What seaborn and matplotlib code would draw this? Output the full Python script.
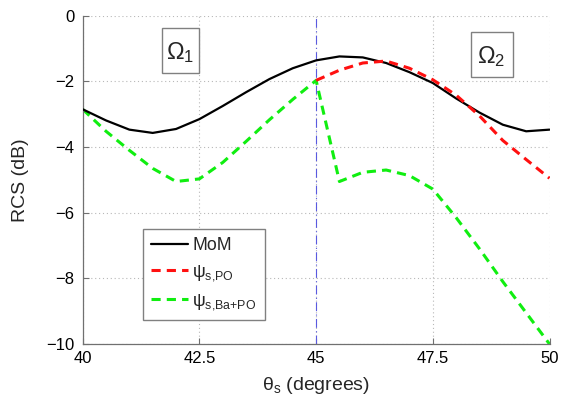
import matplotlib
matplotlib.use("Agg")
import matplotlib.pyplot as plt
from matplotlib.patches import Rectangle
import numpy as np
import pandas as pd
import seaborn as sns

# Scattering angle (degrees)
theta = [40.0, 40.5, 41.0, 41.5, 42.0, 42.5, 43.0, 43.5, 44.0, 44.5, 45.0,
         45.5, 46.0, 46.5, 47.0, 47.5, 48.0, 48.5, 49.0, 49.5, 50.0]

# Method of moments reference (dB)
rcs_mom = [-2.85, -3.19, -3.47, -3.57, -3.45, -3.15, -2.75, -2.33, -1.93, -1.60, -1.36,
           -1.24, -1.27, -1.44, -1.72, -2.05, -2.52, -2.95, -3.32, -3.52, -3.47]

# Physical optics, region Omega_2 only (dB)
theta_po = [45.0, 45.5, 46.0, 46.5, 47.0, 47.5, 48.0, 48.5, 49.0, 49.5, 50.0]
rcs_po = [-1.97, -1.66, -1.44, -1.38, -1.60, -1.95, -2.42, -3.05, -3.80, -4.38, -4.95]

# Combined Ba + PO solution (dB); the jump at 45 deg is the region switch
theta_bapo = theta
rcs_bapo = [-2.85, -3.52, -4.10, -4.65, -5.05, -4.97, -4.47, -3.83, -3.17, -2.55, -1.97,
            -5.05, -4.77, -4.70, -4.87, -5.28, -6.15, -7.10, -8.10, -9.05, -10.00]

x_ticks = [40, 42.5, 45, 47.5, 50]
x_tick_labels = ["40", "42.5", "45", "47.5", "50"]
y_ticks = [0, -2, -4, -6, -8, -10]
region_labels = [r"$\mathrm{\Omega_1}$", r"$\mathrm{\Omega_2}$"]
series_labels = ["MoM", r"$\mathrm{ψ_{s{,}PO}}$", r"$\mathrm{ψ_{s{,}Ba{+}PO}}$"]

sns.set_style("ticks")
plt.rcParams["font.family"] = ["Liberation Sans", "DejaVu Sans"]
plt.rcParams["mathtext.fontset"] = "custom"
plt.rcParams["mathtext.rm"] = "Liberation Sans"
plt.rcParams["mathtext.it"] = "Liberation Sans:italic"
plt.rcParams["mathtext.bf"] = "Liberation Sans:bold"

df_mom = pd.DataFrame({"theta": theta, "rcs": rcs_mom})
df_po = pd.DataFrame({"theta": theta_po, "rcs": rcs_po})
df_bapo = pd.DataFrame({"theta": theta_bapo, "rcs": rcs_bapo})

fig = plt.figure(figsize=(5.73, 4.01), dpi=100)
ax = fig.add_axes([0.1443, 0.1421, 0.8147, 0.8187])

ax.grid(True, color="#b8b8b8", linestyle=(0, (1, 2.5)), linewidth=0.8)
ax.set_axisbelow(True)

# Region boundary
ax.axvline(45, color="#5a5ae0", linestyle=(0, (8, 3, 1, 3)), linewidth=0.8, zorder=1)

sns.lineplot(data=df_mom, x="theta", y="rcs", ax=ax, color="black",
             linewidth=1.6, label=series_labels[0], sort=False, zorder=3)
sns.lineplot(data=df_po, x="theta", y="rcs", ax=ax, color="#ff1010",
             linewidth=2.2, linestyle=(0, (3, 2)), label=series_labels[1], sort=False, zorder=4)
sns.lineplot(data=df_bapo, x="theta", y="rcs", ax=ax, color="#10ee10",
             linewidth=2.2, linestyle=(0, (3, 2)), label=series_labels[2], sort=False, zorder=2)

ax.set_xlim(40, 50)
ax.set_ylim(-10, 0)
ax.set_xticks(x_ticks)
ax.set_xticklabels(x_tick_labels)
ax.set_yticks(y_ticks)
ax.tick_params(direction="in", length=4, width=0.8, color="#707070",
               labelsize=12, labelcolor="black")
ax.tick_params(axis="x", pad=5)
ax.tick_params(axis="y", pad=6)

for side in ["top", "right"]:
    ax.spines[side].set_visible(False)
for side in ["left", "bottom"]:
    ax.spines[side].set_color("#707070")
    ax.spines[side].set_linewidth(0.9)

ax.set_xlabel(r"$\mathrm{θ_s}$ (degrees)", fontsize=14)
ax.set_ylabel("RCS (dB)", fontsize=14)
ax.xaxis.set_label_coords(0.5, -0.125)
ax.xaxis.label.set_va("center")
ax.yaxis.set_label_coords(-0.133, 0.5)
ax.yaxis.label.set_va("center")

# Region tags: framed boxes with the region symbol inside
for (x0, x1, y0, y1), label in zip([(41.69, 42.50, -1.76, -0.385), (48.31, 49.21, -1.87, -0.49)],
                                   region_labels):
    ax.add_patch(Rectangle((x0, y0), x1 - x0, y1 - y0, facecolor="white",
                           edgecolor="#808080", linewidth=1, zorder=5))
    ax.text((x0 + x1) / 2, (y0 + y1) / 2 - 0.05, label, fontsize=17,
            ha="center", va="center", zorder=6)

leg = ax.legend(loc="upper left", bbox_to_anchor=(0.1285, 0.350), borderaxespad=0,
                fontsize=12.8, handlelength=2.1, handletextpad=0.25, labelspacing=0.5,
                borderpad=0.45, fancybox=False, framealpha=1, edgecolor="#808080")
leg.get_frame().set_linewidth(1)

fig.savefig("out.png", dpi=100)
